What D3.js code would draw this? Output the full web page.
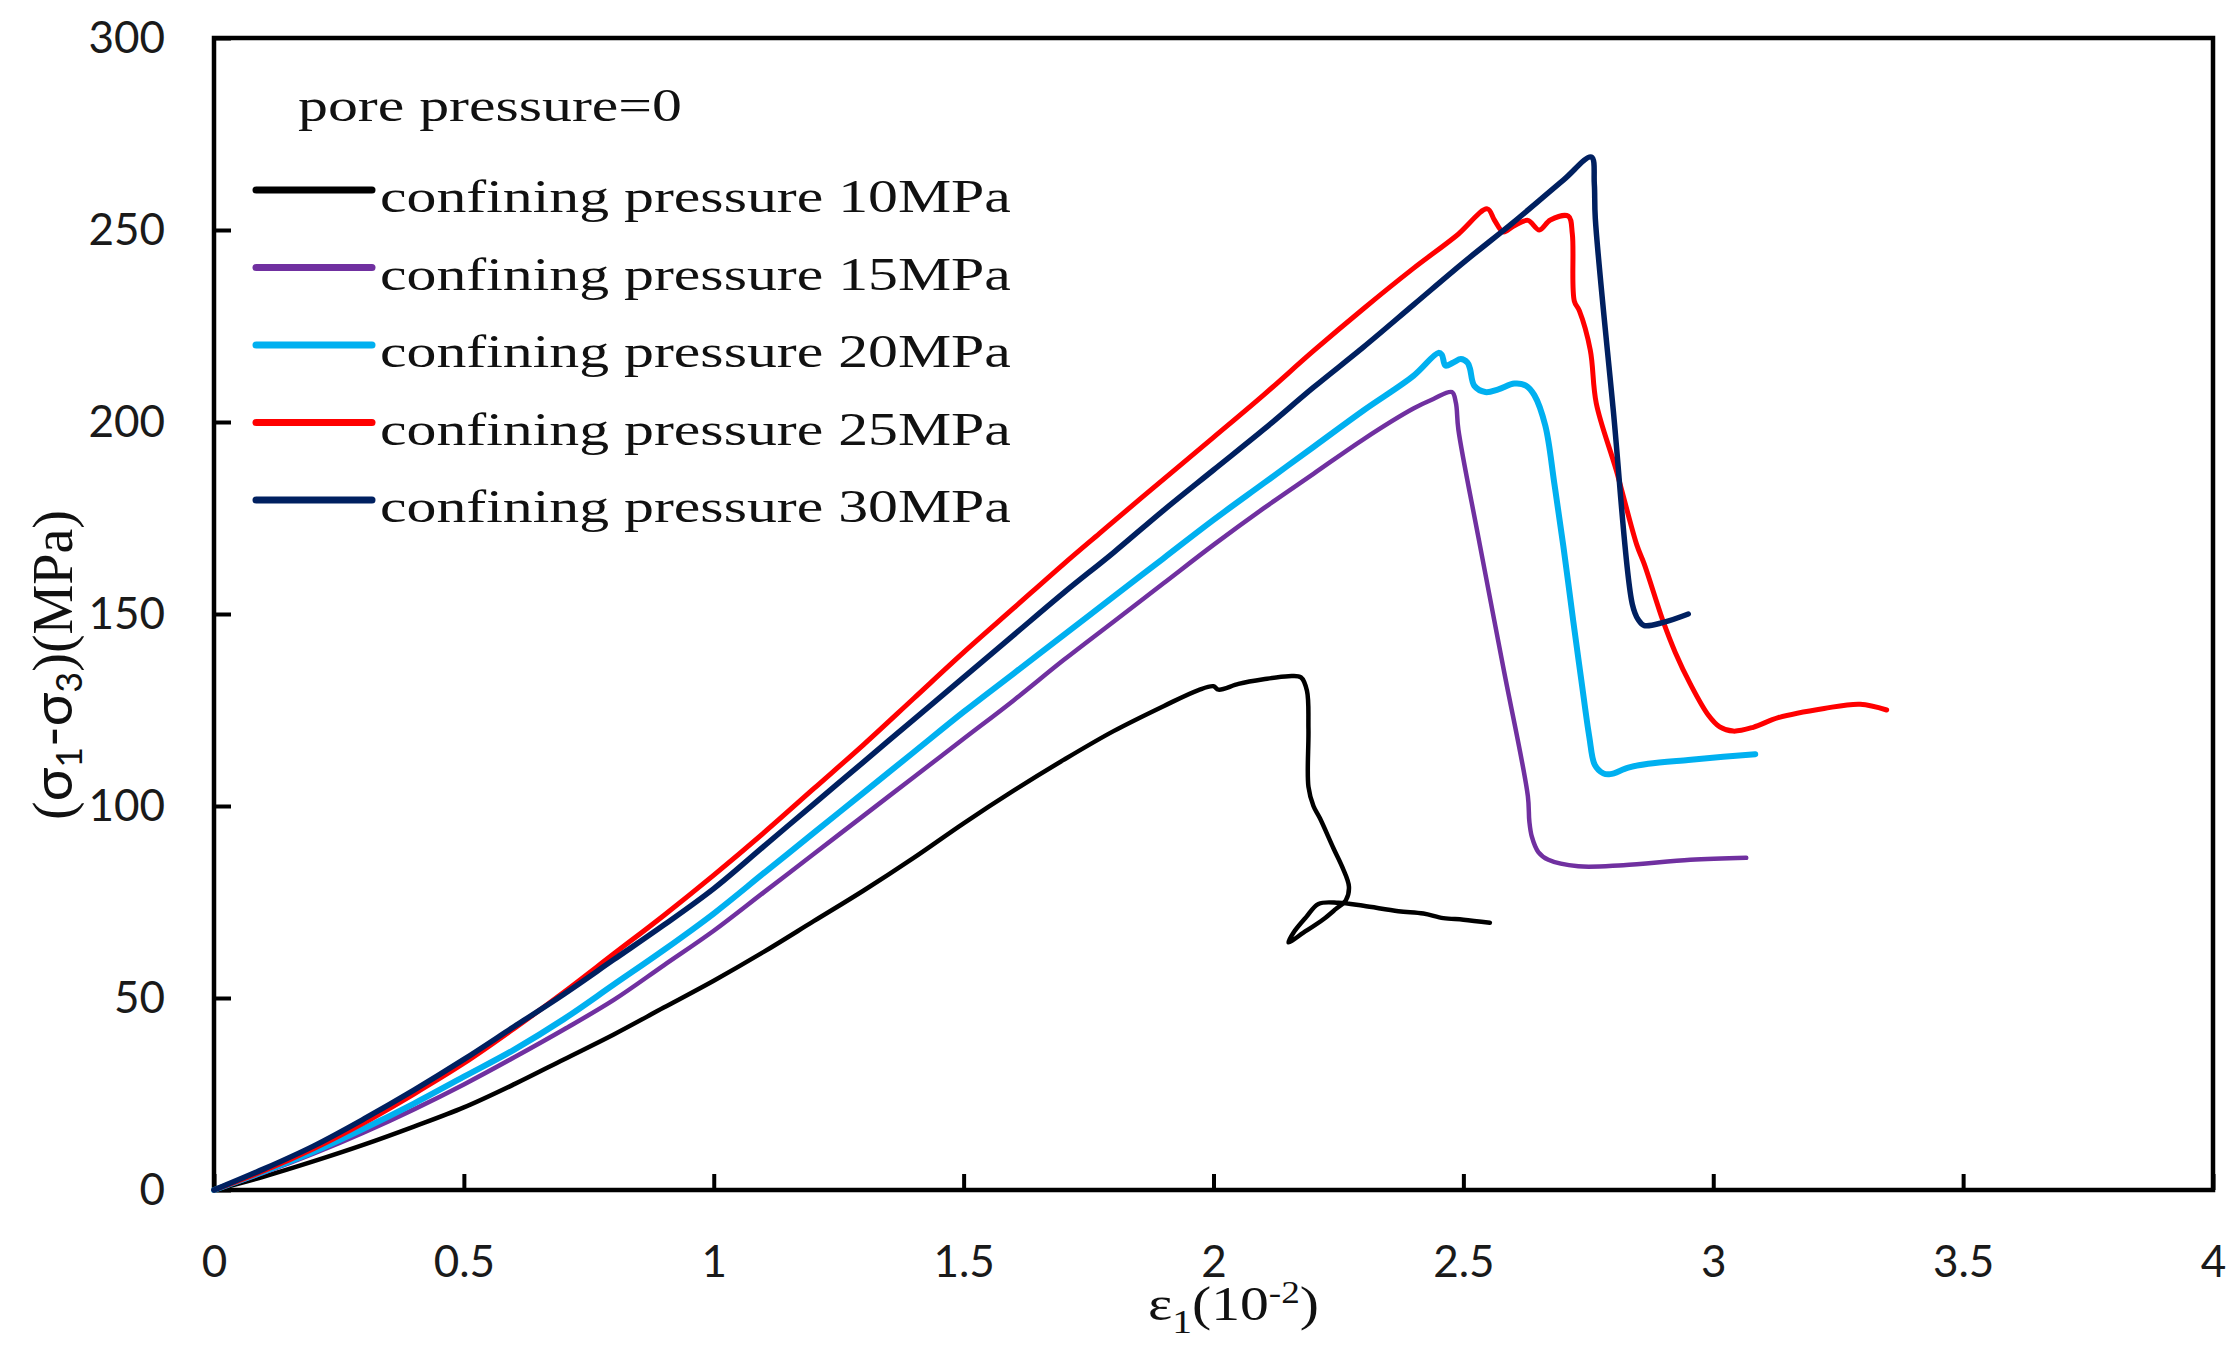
<!DOCTYPE html>
<html>
<head>
<meta charset="utf-8">
<script src="https://cdn.jsdelivr.net/npm/d3@7"></script>
<style>
  body { margin: 0; background: #fff; }
  svg { display: block; }
</style>
</head>
<body>
<div id="chart"></div>
<script>
// curves: [strain (10^-2), deviatoric stress (MPa)]
const cp10 = [[0,0],[0.1,3.5],[0.2,7.5],[0.3,11.8],[0.4,16.5],[0.5,21.5],[0.6,27.5],[0.7,34],[0.8,40.5],[0.9,47.5],
  [1.0,54.5],[1.1,62],[1.2,70],[1.3,78],[1.4,86.5],[1.5,95.5],[1.6,104],[1.7,112],[1.8,119.5],[1.9,126],[1.97,130.2],
  [2.0,131.2],[2.01,130.3],[2.05,131.8],[2.1,133],[2.15,133.8],[2.175,133.5],[2.187,130],[2.19,120],[2.19,105],
  [2.2,100],[2.213,96.8],[2.24,89],[2.258,84],[2.271,79],[2.265,75.5],[2.245,73.2],[2.22,70.5],[2.18,67],[2.15,64.5],
  [2.16,67],[2.185,71],[2.21,74.5],[2.25,74.8],[2.3,74],[2.37,72.6],[2.42,72],[2.46,70.8],[2.5,70.4],[2.553,69.6]];

const cp15 = [[0,0],[0.1,4.5],[0.2,9.5],[0.3,15],[0.4,21],[0.5,27.5],[0.6,34.5],[0.7,41.8],[0.8,49.5],[0.9,58.5],
  [1.0,67.5],[1.1,77.5],[1.2,87.5],[1.3,97.5],[1.4,107.5],[1.5,117.5],[1.6,127.5],[1.7,138],[1.8,148],[1.9,158],
  [2.0,168],[2.1,177.5],[2.2,186.5],[2.3,195.5],[2.4,203.5],[2.44,206],[2.477,207.8],[2.485,205],[2.49,198],
  [2.53,170],[2.58,136],[2.629,102.6],[2.632,96],[2.637,92],[2.65,88],[2.67,86],[2.73,84.3],[2.82,84.6],[2.954,86],
  [3.066,86.5]];

const cp20 = [[0,0],[0.1,4.8],[0.2,10],[0.3,16],[0.4,22.5],[0.5,29.5],[0.6,36.5],[0.7,44.5],[0.8,53.5],[0.9,62.5],
  [1.0,72],[1.1,82.5],[1.2,93],[1.3,103.5],[1.4,114],[1.5,124.5],[1.6,134.5],[1.7,144.5],[1.8,154.5],[1.9,164.5],
  [2.0,174.5],[2.1,184],[2.2,193.5],[2.3,203],[2.4,212],[2.45,218],[2.457,217.5],[2.464,214.7],[2.48,215.5],
  [2.495,216.4],[2.508,215.5],[2.513,214],[2.522,209.4],[2.544,207.8],[2.57,208.5],[2.602,210],[2.625,209.5],
  [2.642,207],[2.664,199],[2.682,184],[2.7,167.7],[2.72,148],[2.736,132.8],[2.752,118],[2.763,110.7],[2.78,108.5],
  [2.794,108.3],[2.83,110],[2.87,111],[2.95,112],[3.02,112.8],[3.084,113.5]];

const cp25 = [[0,0],[0.1,5],[0.2,10.8],[0.3,17.5],[0.4,25],[0.5,33],[0.6,42],[0.7,51.5],[0.8,61.5],[0.9,71.5],
  [1.0,82],[1.1,93],[1.2,104.5],[1.3,116],[1.4,128],[1.5,140],[1.6,151.5],[1.7,163],[1.772,171],[1.858,180.5],
  [2.0,196],[2.1,207],[2.2,218.5],[2.3,229.5],[2.4,240],[2.486,248.5],[2.548,255.5],[2.562,252.6],[2.58,249.5],
  [2.6,251],[2.629,252.5],[2.652,250],[2.674,252.6],[2.71,253.6],[2.718,249],[2.722,231.5],[2.732,229],[2.754,218.7],
  [2.766,204.8],[2.806,187.4],[2.847,168],[2.862,163],[2.9,148],[2.924,140],[2.954,131.8],[2.99,123.7],[3.013,120.6],
  [3.04,119.5],[3.08,120.5],[3.13,123],[3.222,125.4],[3.294,126.5],[3.347,125]];

const cp30 = [[0,0],[0.1,5.5],[0.2,11.5],[0.3,18.5],[0.4,26],[0.5,34],[0.6,42.5],[0.7,51],[0.8,60],[0.9,69],
  [1.0,78.5],[1.1,89.5],[1.2,100.5],[1.3,111.5],[1.4,122.5],[1.5,133.5],[1.6,144.5],[1.7,155.5],[1.8,166],[1.9,177],
  [2.0,187.5],[2.1,198],[2.2,209],[2.3,219.5],[2.4,230.5],[2.5,241.5],[2.6,252],[2.7,263],[2.756,269],[2.762,262],
  [2.764,253],[2.8,203],[2.838,152.6],[2.85,148.5],[2.862,147],[2.9,147.8],[2.95,150]];

const series = [cp10, cp15, cp20, cp25, cp30];
const seriesNames = ['confining pressure 10MPa', 'confining pressure 15MPa', 'confining pressure 20MPa',
  'confining pressure 25MPa', 'confining pressure 30MPa'];
const seriesColors = ['#000000', '#7030a0', '#00b0f0', '#ff0000', '#002060'];
const seriesWidths = [4.5, 4.5, 6, 5, 5.5];

const xTicks = [0, 0.5, 1, 1.5, 2, 2.5, 3, 3.5, 4];
const yTicks = [0, 50, 100, 150, 200, 250, 300];

const chart_width = 2238;
const chart_height = 1353;
const plot = {left: 214, right: 2213, top: 38, bottom: 1190};
const serif = '"Liberation Serif", "Times New Roman", serif';
const sans = 'Lato, "Open Sans", sans-serif';
const stretch = 1.3; // the figure's serif text is widened

const svg = d3.select('#chart')
    .append('svg')
    .attr('width', chart_width)
    .attr('height', chart_height);

// scales
const x_scale = d3.scaleLinear().domain([0, 4]).range([plot.left, plot.right]);
const y_scale = d3.scaleLinear().domain([0, 300]).range([plot.bottom, plot.top]);

// axes, ticks pointing into the plot
const xAxis = svg.append('g')
    .attr('transform', `translate(0,${plot.bottom})`)
    .call(d3.axisBottom(x_scale).tickValues(xTicks).tickSizeInner(-16).tickSizeOuter(0)
        .tickPadding(56).tickFormat(d3.format('')));

const yAxis = svg.append('g')
    .attr('transform', `translate(${plot.left},0)`)
    .call(d3.axisLeft(y_scale).tickValues(yTicks).tickSizeInner(-17).tickSizeOuter(0)
        .tickPadding(49).tickFormat(d3.format('')));

[xAxis, yAxis].forEach(ax => {
    ax.select('.domain').remove();
    ax.selectAll('.tick line').attr('stroke', '#000').attr('stroke-width', 4);
    ax.selectAll('.tick text')
        .attr('font-family', sans)
        .attr('font-size', 44)
        .attr('fill', '#1a1a1a');
});

// frame
svg.append('rect')
    .attr('x', plot.left)
    .attr('y', plot.top)
    .attr('width', plot.right - plot.left)
    .attr('height', plot.bottom - plot.top)
    .attr('fill', 'none')
    .attr('stroke', '#000')
    .attr('stroke-width', 4.5);

// curves
const line = d3.line()
    .x(d => x_scale(d[0]))
    .y(d => y_scale(d[1]))
    .curve(d3.curveCatmullRom.alpha(0.5));

svg.selectAll('path.curve')
    .data(series)
    .enter()
    .append('path')
    .attr('class', 'curve')
    .attr('d', line)
    .attr('fill', 'none')
    .attr('stroke', (d, i) => seriesColors[i])
    .attr('stroke-width', (d, i) => seriesWidths[i])
    .attr('stroke-linejoin', 'round')
    .attr('stroke-linecap', 'round');

// legend
const legend = svg.append('g');

legend.append('text')
    .attr('transform', `translate(298,121) scale(${stretch},1)`)
    .attr('font-family', serif)
    .attr('font-size', 46)
    .attr('fill', '#111')
    .text('pore pressure=0');

const rows = legend.selectAll('g.row')
    .data(seriesNames)
    .enter()
    .append('g')
    .attr('class', 'row')
    .attr('transform', (d, i) => `translate(0,${190 + i * 77.5})`);

rows.append('line')
    .attr('x1', 256)
    .attr('x2', 372)
    .attr('stroke', (d, i) => seriesColors[i])
    .attr('stroke-width', 7)
    .attr('stroke-linecap', 'round');

rows.append('text')
    .attr('transform', `translate(380,22) scale(${stretch},1)`)
    .attr('font-family', serif)
    .attr('font-size', 46)
    .attr('fill', '#111')
    .text(d => d);

// x axis title: ε1(10-2)
const xTitle = svg.append('text')
    .attr('transform', `translate(1148,1320) scale(1.2,1)`)
    .attr('font-family', serif)
    .attr('font-size', 48)
    .attr('fill', '#111');
xTitle.append('tspan').text('ε');
xTitle.append('tspan').attr('font-size', 33).attr('dy', 13).text('1');
xTitle.append('tspan').attr('dy', -13).text('(10');
xTitle.append('tspan').attr('font-size', 31).attr('dy', -17).text('-2');
xTitle.append('tspan').attr('dy', 17).text(')');

// y axis title: (σ1-σ3)(MPa)
const yTitle = svg.append('text')
    .attr('transform', 'translate(72,665) rotate(-90)')
    .attr('text-anchor', 'middle')
    .attr('font-family', serif)
    .attr('font-size', 56)
    .attr('fill', '#111');
yTitle.append('tspan').text('(');
yTitle.append('tspan').attr('font-family', sans).text('σ');
yTitle.append('tspan').attr('font-family', sans).attr('font-size', 36).attr('dy', 10).text('1');
yTitle.append('tspan').attr('font-family', sans).attr('dy', -10).text('-σ');
yTitle.append('tspan').attr('font-family', sans).attr('font-size', 36).attr('dy', 10).text('3');
yTitle.append('tspan').attr('dy', -10).text(')(MPa)');
</script>
</body>
</html>
